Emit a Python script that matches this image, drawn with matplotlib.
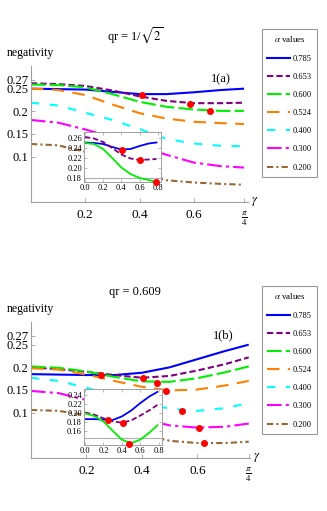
import numpy as np
import matplotlib
matplotlib.use("Agg")
import matplotlib.pyplot as plt
from matplotlib.lines import Line2D

plt.rcParams['font.family'] = ['Liberation Serif', 'DejaVu Serif']
plt.rcParams['mathtext.fontset'] = 'stix'

W, H = 327, 511

# ---- data -------------------------------------------------------------
alpha_labels = ['0.785', '0.653', '0.600', '0.524', '0.400', '0.300', '0.200']
colors = ['#0000ff', '#800080', '#00ee00', '#ff8000', '#00ffff', '#ff00ff', '#996633']
dashes = [(), (3, 1.5), (7, 2), (6, 4), (4, 5), (7, 2, 1.5, 2), (3, 1.5, 1, 1.5)]

gamma = [0, 0.1, 0.2, 0.3, 0.4, 0.5, 0.6, 0.7, np.pi / 4]

# qr = 1/sqrt(2)
neg_a = [
    [0.250, 0.249, 0.248, 0.243, 0.238, 0.238, 0.242, 0.247, 0.250],
    [0.262, 0.260, 0.256, 0.246, 0.233, 0.223, 0.218, 0.218, 0.219],
    [0.259, 0.258, 0.253, 0.238, 0.221, 0.210, 0.204, 0.201, 0.201],
    [0.250, 0.247, 0.236, 0.215, 0.196, 0.184, 0.177, 0.174, 0.172],
    [0.219, 0.213, 0.197, 0.181, 0.161, 0.139, 0.129, 0.124, 0.123],
    [0.181, 0.175, 0.160, 0.143, 0.124, 0.104, 0.087, 0.079, 0.076],
    [0.128, 0.125, 0.111, 0.090, 0.066, 0.048, 0.043, 0.040, 0.038],
]
dots_a_x = [0.41, 0.585, 0.66]
dots_a_y = [0.237, 0.217, 0.201]

inset_a = [
    [0.251, 0.250, 0.248, 0.242, 0.237, 0.238, 0.244, 0.249, 0.251],
    [0.262, 0.259, 0.252, 0.240, 0.227, 0.219, 0.216, 0.217, 0.218],
    [0.250, 0.248, 0.238, 0.220, 0.201, 0.188, 0.180, 0.176, 0.172],
]
inset_a_dx = [0.41, 0.60, 0.785]
inset_a_dy = [0.236, 0.216, 0.172]

# qr = 0.609
neg_b = [
    [0.185, 0.184, 0.183, 0.183, 0.188, 0.200, 0.218, 0.236, 0.250],
    [0.200, 0.196, 0.190, 0.183, 0.177, 0.181, 0.193, 0.207, 0.222],
    [0.202, 0.199, 0.191, 0.179, 0.169, 0.168, 0.176, 0.189, 0.202],
    [0.198, 0.195, 0.184, 0.170, 0.157, 0.149, 0.151, 0.160, 0.170],
    [0.177, 0.170, 0.155, 0.138, 0.122, 0.109, 0.104, 0.110, 0.121],
    [0.148, 0.143, 0.128, 0.108, 0.086, 0.072, 0.067, 0.069, 0.076],
    [0.106, 0.104, 0.094, 0.075, 0.052, 0.038, 0.033, 0.033, 0.036],
]
dots_b_x = [0.253, 0.404, 0.455, 0.487, 0.545, 0.606, 0.625]
dots_b_y = [0.183, 0.176, 0.166, 0.148, 0.104, 0.067, 0.033]

inset_b = [
    [0.186, 0.186, 0.185, 0.184, 0.192, 0.205, 0.222, 0.237, 0.247],
    [0.201, 0.196, 0.188, 0.181, 0.178, 0.183, 0.194, 0.206, 0.218],
    [0.199, 0.193, 0.181, 0.160, 0.140, 0.132, 0.140, 0.156, 0.172],
]
inset_b_dx = [0.25, 0.41, 0.48]
inset_b_dy = [0.183, 0.178, 0.131]

main_yticks = [0.1, 0.15, 0.2, 0.25, 0.27]
main_ylabels = ['0.1', '0.15', '0.2', '0.25', '0.27']
main_xticks = [0.2, 0.4, 0.6, np.pi / 4]
main_xlabels = ['0.2', '0.4', '0.6', r'$\frac{\pi}{4}$']

AX_COL = '#a0a0a0'


def px_axes(l, t, r, b):
    return fig.add_axes([l / W, 1 - b / H, (r - l) / W, (b - t) / H])


def panel(top, neg, dx, dy, xmax, ins, ins_dx, ins_dy, ins_box, ins_ylim, ins_line,
          ins_yticks, title, tag, leg_top):
    ax = px_axes(31, top, 31 + 217 if xmax == 0.80 else 31 + 219, top + 136)
    for vals, c, d in zip(neg, colors, dashes):
        ax.plot(gamma, vals, color=c, lw=1.5, dashes=d, solid_capstyle='butt',
                dash_capstyle='butt')
    ax.plot(dx, dy, 'o', color='#ff0000', ms=4.0, zorder=5)
    ax.set_xlim(0, xmax)
    ax.set_ylim(0, 0.3)
    for s in ['top', 'right']:
        ax.spines[s].set_visible(False)
    for s in ['left', 'bottom']:
        ax.spines[s].set_color(AX_COL)
        ax.spines[s].set_linewidth(0.8)
    ax.set_yticks(main_yticks, main_ylabels)
    ax.set_xticks(main_xticks, main_xlabels)
    ax.tick_params(direction='in', length=3, width=0.6, color=AX_COL, pad=2)
    ax.tick_params(axis='y', labelsize=9)
    ax.tick_params(axis='x', labelsize=9.5, pad=5)
    ax.text(1.015, 0.0, r'$\gamma$', transform=ax.transAxes, fontsize=9,
            ha='left', va='center')
    fig.text(135 / W, 1 - (top - 30) / H, title, fontsize=9, ha='center', va='center')
    fig.text(7 / W, 1 - (top - 13) / H, 'negativity', fontsize=8.5, ha='left', va='center')
    ax.text(0.83, 0.9, tag, transform=ax.transAxes, fontsize=9, ha='left', va='center')

    # inset
    ia = px_axes(*ins_box)
    ia.set_facecolor('white')
    ia.axhline(ins_line, color='#b0b0b0', lw=0.8)
    ia.plot(gamma, ins[0], color=colors[0], lw=1.3)
    ia.plot(gamma, ins[1], color=colors[1], lw=1.3, dashes=(3, 1.5))
    ia.plot(gamma, ins[2], color=colors[2], lw=1.3)
    ia.plot(ins_dx, ins_dy, 'o', color='#ff0000', ms=4.0, zorder=5, clip_on=False)
    ia.set_xlim(-0.01, 0.835)
    ia.set_ylim(*ins_ylim)
    ia.set_xticks([0.0, 0.2, 0.4, 0.6, 0.8], ['0.0', '0.2', '0.4', '0.6', '0.8'])
    ia.set_yticks(ins_yticks, ['%.2f' % v for v in ins_yticks])
    ia.tick_params(direction='in', length=2, width=0.5, color=AX_COL, labelsize=6, pad=1.5,
                   top=True, right=True)
    for s in ia.spines.values():
        s.set_color(AX_COL)
        s.set_linewidth(0.7)

    # legend
    handles = [Line2D([], [], color=c, lw=1.5, dashes=d) for c, d in zip(colors, dashes)]
    leg = fig.legend(handles, alpha_labels, title=r'$\alpha$ values', loc='upper left',
                     bbox_to_anchor=(262 / W, 1 - leg_top / H), fontsize=6,
                     title_fontsize=6.5, frameon=True, fancybox=False, handlelength=2.7,
                     handletextpad=0.3, labelspacing=1.22, borderpad=0.65,
                     borderaxespad=0)
    leg.get_frame().set_edgecolor('#808080')
    leg.get_frame().set_linewidth(0.8)


fig = plt.figure(figsize=(W / 100, H / 100), dpi=100)

panel(66, neg_a, dots_a_x, dots_a_y, 0.80, inset_a, inset_a_dx, inset_a_dy,
      (84, 132, 161, 182), (0.172, 0.272), 0.18, [0.18, 0.20, 0.22, 0.24, 0.26],
      r'qr = 1/$\sqrt{2}$', '1(a)', 29)
panel(322, neg_b, dots_b_x, dots_b_y, 0.79, inset_b, inset_b_dx, inset_b_dy,
      (84, 389, 162, 445), (0.128, 0.2535), 0.143, [0.16, 0.18, 0.20, 0.22, 0.24],
      'qr = 0.609', '1(b)', 286)

fig.savefig('out.png', dpi=100)
